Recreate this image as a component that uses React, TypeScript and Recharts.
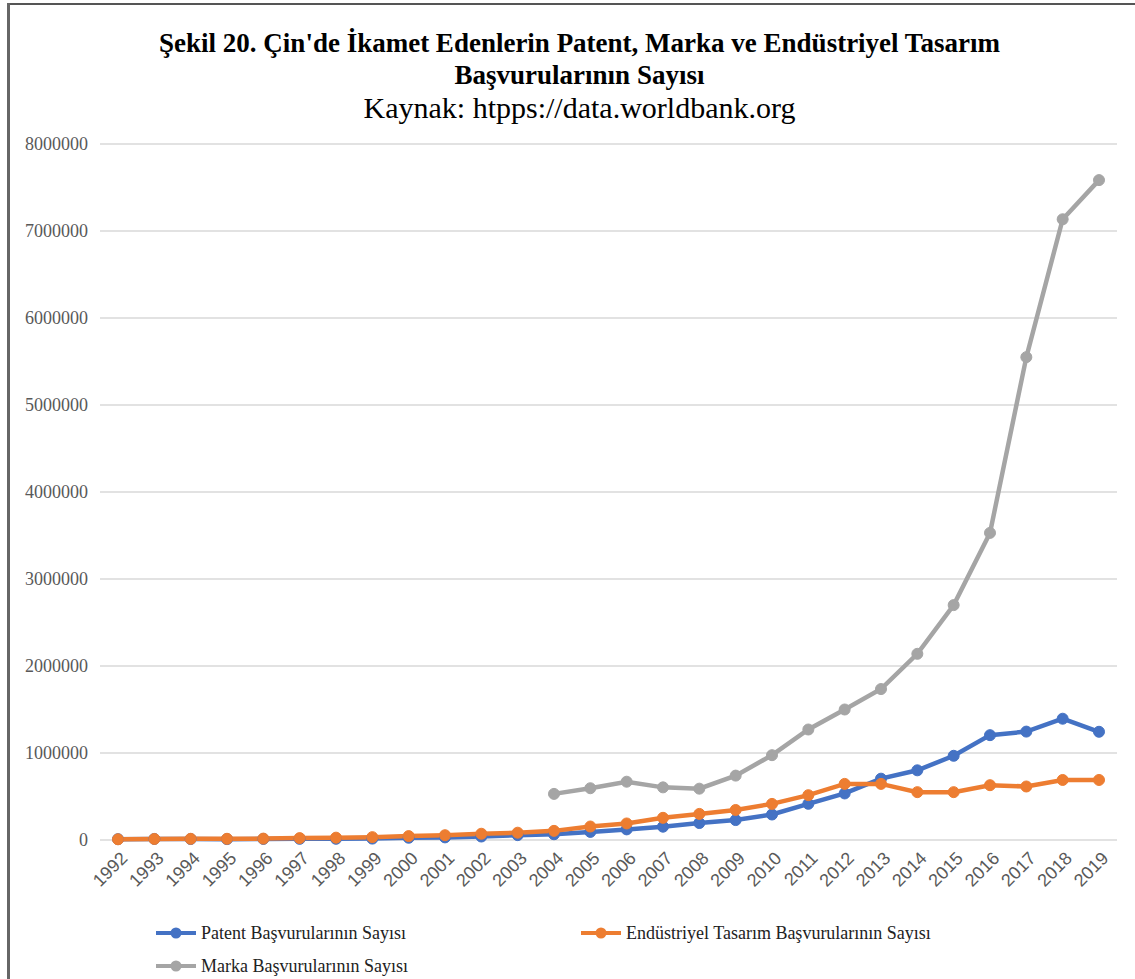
import { CartesianGrid, Line, LineChart, XAxis, YAxis } from "recharts";

const years = [
  "1992", "1993", "1994", "1995", "1996", "1997", "1998", "1999", "2000", "2001",
  "2002", "2003", "2004", "2005", "2006", "2007", "2008", "2009", "2010", "2011",
  "2012", "2013", "2014", "2015", "2016", "2017", "2018", "2019",
];

const patentCounts = [
  10000, 12000, 11000, 10000, 12000, 13000, 14000, 16000, 26000, 30000,
  40000, 56000, 66000, 93000, 122000, 153000, 195000, 229000, 293000, 416000,
  535000, 705000, 801000, 968000, 1205000, 1246000, 1394000, 1244000,
];

const designCounts = [
  8000, 12000, 14000, 14000, 16000, 22000, 27000, 33000, 45000, 55000,
  72000, 84000, 105000, 155000, 190000, 255000, 300000, 345000, 415000, 515000,
  645000, 645000, 550000, 550000, 630000, 615000, 690000, 690000,
];

const trademarkCounts = [
  null, null, null, null, null, null, null, null, null, null,
  null, null, 530000, 595000, 670000, 605000, 590000, 740000, 975000, 1270000,
  1500000, 1735000, 2140000, 2700000, 3530000, 5550000, 7135000, 7585000,
];

const yTicks = [0, 1000000, 2000000, 3000000, 4000000, 5000000, 6000000, 7000000, 8000000];

const series = [
  { key: "patent", name: "Patent Başvurularının Sayısı", color: "#4472C4" },
  { key: "design", name: "Endüstriyel Tasarım Başvurularının Sayısı", color: "#ED7D31" },
  { key: "trademark", name: "Marka Başvurularının Sayısı", color: "#A5A5A5" },
];

const chartData = years.map((year, i) => ({
  year,
  patent: patentCounts[i],
  design: designCounts[i],
  trademark: trademarkCounts[i],
}));

const serif = '"Liberation Serif", "Times New Roman", serif';

const YearTick = ({ x, y, payload }: any) => (
  <g transform={`translate(${x + 6},${y + 7})`}>
    <text
      transform="rotate(-45)"
      textAnchor="end"
      dy="0.35em"
      fill="#595959"
      fontSize={18}
      fontFamily='"Liberation Sans", Arial, sans-serif'
    >
      {payload.value}
    </text>
  </g>
);

// legend positions copied from the Excel layout: two columns, two rows
const legendSlots = [
  { left: 155, top: 920 },
  { left: 580, top: 920 },
  { left: 155, top: 953 },
];

export default function App() {
  return (
    <div
      style={{
        position: "absolute",
        left: 0,
        top: 0,
        width: 1135,
        height: 979,
        background: "#fff",
        overflow: "hidden",
      }}
    >
      <div style={{ position: "absolute", left: 7, top: 3, width: 1128, height: 2, background: "#555" }} />
      <div style={{ position: "absolute", left: 7, top: 3, width: 3, height: 976, background: "#666" }} />

      <div
        style={{
          position: "absolute",
          left: 12,
          top: 27,
          width: 1135,
          textAlign: "center",
          fontFamily: serif,
          color: "#000",
        }}
      >
        <div style={{ fontSize: 27, fontWeight: "bold", lineHeight: "32px" }}>
          Şekil 20. Çin'de İkamet Edenlerin Patent, Marka ve Endüstriyel Tasarım
        </div>
        <div style={{ fontSize: 27, fontWeight: "bold", lineHeight: "32px" }}>
          Başvurularının Sayısı
        </div>
        <div style={{ fontSize: 30, lineHeight: "34px" }}>Kaynak: htpps://data.worldbank.org</div>
      </div>

      <div style={{ position: "absolute", left: 0, top: 0 }}>
        <LineChart
          width={1135}
          height={979}
          data={chartData}
          margin={{ top: 144, right: 18, bottom: 79, left: 10 }}
        >
          <CartesianGrid vertical={false} stroke="#d9d9d9" strokeWidth={1.5} />
          <XAxis
            dataKey="year"
            interval={0}
            axisLine={false}
            tickLine={false}
            height={60}
            padding={{ left: 18, right: 18 }}
            tick={<YearTick />}
          />
          <YAxis
            width={90}
            domain={[0, 8000000]}
            ticks={yTicks}
            axisLine={false}
            tickLine={false}
            tickMargin={6}
            tickFormatter={(v: number) => String(v)}
            tick={{ fill: "#595959", fontSize: 18, fontFamily: serif }}
          />
          {series.map((s) => (
            <Line
              key={s.key}
              dataKey={s.key}
              name={s.name}
              stroke={s.color}
              strokeWidth={4.5}
              dot={{ r: 5.5, fill: s.color, stroke: s.color, strokeWidth: 1 }}
              isAnimationActive={false}
            />
          ))}
        </LineChart>
      </div>

      {series.map((s, i) => (
        <div
          key={s.key}
          style={{
            position: "absolute",
            left: legendSlots[i].left,
            top: legendSlots[i].top,
            display: "flex",
            alignItems: "center",
            fontFamily: serif,
            fontSize: 18,
            color: "#222",
          }}
        >
          <svg width={44} height={26}>
            <line x1={1} y1={13} x2={41} y2={13} stroke={s.color} strokeWidth={4} />
            <circle cx={21} cy={13} r={5.5} fill={s.color} />
          </svg>
          <span style={{ marginLeft: 2 }}>{s.name}</span>
        </div>
      ))}
    </div>
  );
}
